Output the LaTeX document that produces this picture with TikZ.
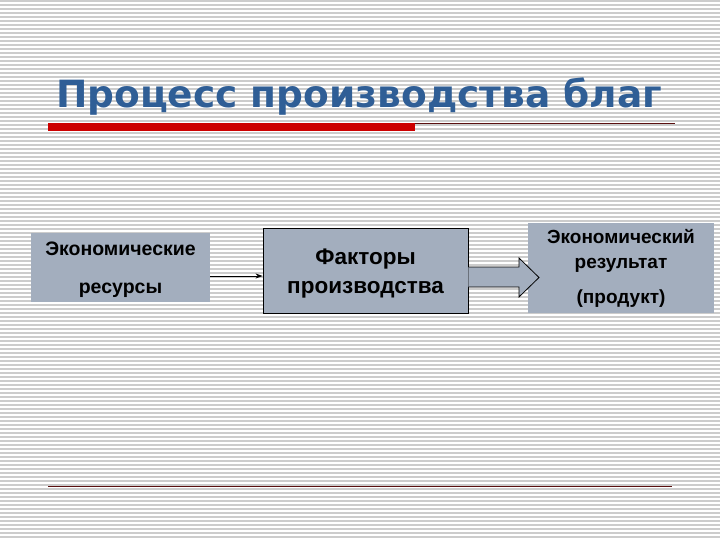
\documentclass[tikz,border=0pt]{standalone}
\usepackage{fontspec}
\setmainfont{Liberation Sans}
\newfontfamily\titlefont{DejaVu Sans}
\usetikzlibrary{arrows.meta}
\definecolor{boxfill}{HTML}{A3AEBE}
\definecolor{titleblue}{HTML}{2F5E96}
\definecolor{barred}{HTML}{CC0000}
\definecolor{linered}{HTML}{5A1010}
\tikzset{
  graybox/.style={fill=boxfill, draw=none, inner sep=0pt, align=center, text=black},
  framedbox/.style={graybox, draw=black, line width=0.9pt},
  boxtext/.style={inner sep=0pt, align=center, text=black},
}
\begin{document}
\begin{tikzpicture}[x=1pt,y=-1pt]
\useasboundingbox (0,0) rectangle (720,540);
\fill[white] (0,0) rectangle (720,540);
\foreach \yy in {1,5,...,540} {
  \draw[black!20, line width=1.6pt] (0,\yy) -- (720,\yy);
}
% title
\node[anchor=base west, text=titleblue, font=\titlefont\bfseries\fontsize{37.5}{42}\selectfont, inner sep=0pt] (title) at (56,108) {Процесс производства благ};
\fill[barred] (48,123.5) rectangle (415,131);
\draw[linered, line width=0.8pt] (415,123.5) -- (675,123.5);
\draw[linered, line width=0.9pt] (48,486) -- (672,486);
% boxes
\node[graybox, minimum width=179pt, minimum height=69pt] (res) at (120.5,267.5) {};
\node[boxtext, font=\bfseries\fontsize{19.5}{38}\selectfont] (resT) at (120.5,269.5) {Экономические\\ресурсы};
\node[framedbox, minimum width=205pt, minimum height=85pt] (fac) at (365.5,270.5) {};
\node[boxtext, font=\bfseries\fontsize{22.5}{29}\selectfont] (facT) at (365.5,273.5) {Факторы\\производства};
\node[graybox, minimum width=186pt, minimum height=90pt, font=\bfseries\fontsize{19}{25}\selectfont] (out) at (621,268) {Экономический\\результат\\[10pt](продукт)};
% connectors
\draw[-{Stealth[length=7pt,width=5pt]}, line width=0.8pt] (res.east |- 0,276) -- (fac.west |- 0,276);
\draw[fill=boxfill, draw=black, line width=0.8pt, line join=miter]
  (fac.east |- 0,267) -- (519,267) -- (519,258) -- (539,277.5) -- (519,297) -- (519,287) -- (fac.east |- 0,287);
\end{tikzpicture}
\end{document}
